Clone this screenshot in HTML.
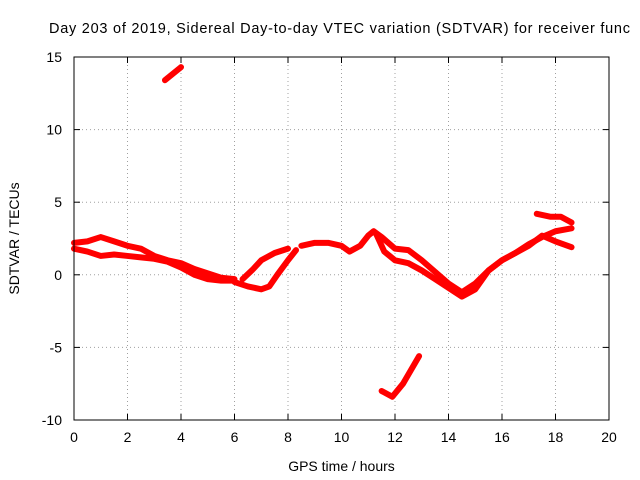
<!DOCTYPE html>
<html><head><meta charset="utf-8"><style>
html,body{margin:0;padding:0;background:#fff;}
svg{display:block;font-family:"Liberation Sans",sans-serif;}
</style></head><body>
<svg id="chart" width="640" height="480">
<g id="grid"></g><g id="marks"></g><g id="axes"></g>
</svg>
<script>
const xTicks=[0,2,4,6,8,10,12,14,16,18,20];
const yTicks=[-10,-5,0,5,10,15];
const bandAx=[0,0.5,1,1.5,2,2.5,3,3.5,4,4.5,5,5.5,6];
const bandAy=[1.8,1.6,1.3,1.4,1.3,1.2,1.1,0.9,0.5,0.0,-0.3,-0.4,-0.4];
const bandBx=[0,0.5,1,1.5,2,2.5,3,3.5,4,4.5,5,5.5,6];
const bandBy=[2.2,2.3,2.6,2.3,2.0,1.8,1.3,1.0,0.8,0.4,0.1,-0.2,-0.3];
const bandCx=[6,6.5,7,7.3,7.6,8,8.3];
const bandCy=[-0.5,-0.8,-1.0,-0.8,0,1.0,1.7];
const bandDx=[6.3,6.7,7,7.5,8];
const bandDy=[-0.3,0.4,1.0,1.5,1.8];
const bandEx=[8.5,9,9.5,10,10.3,10.7,11,11.2,11.5,12,12.5,13,13.5,14,14.5,15,15.5,16,16.5,17,17.5,18,18.6];
const bandEy=[2.0,2.2,2.2,2.0,1.6,2.0,2.7,3.0,2.6,1.8,1.7,1.0,0.2,-0.6,-1.2,-0.6,0.3,1.0,1.5,2.1,2.6,3.0,3.2];
const bandFx=[11.3,11.6,12,12.5,13,13.5,14,14.5,15,15.5,16,17,17.5,18,18.6];
const bandFy=[2.8,1.6,1.0,0.8,0.3,-0.3,-0.9,-1.5,-1.0,0.3,1.0,2.0,2.7,2.3,1.9];
const bandGx=[17.3,17.8,18.2,18.6];
const bandGy=[4.2,4.0,4.0,3.6];
const outHx=[3.4,4.0];
const outHy=[13.4,14.3];
const outLx=[11.5,11.9,12.3,12.9];
const outLy=[-8.0,-8.4,-7.5,-5.6];
const series=[[bandAx,bandAy],[bandBx,bandBy],[bandCx,bandCy],[bandDx,bandDy],[bandEx,bandEy],[bandFx,bandFy],[bandGx,bandGy],[outHx,outHy],[outLx,outLy]];
const L=74,R=609,T=57,B=420;
const X=v=>L+(v-0)/(20-0)*(R-L);
const Y=v=>B-(v+10)/(25)*(B-T);
const NS='http://www.w3.org/2000/svg';
function mk(tag,parent,attrs){const e=document.createElementNS(NS,tag);for(const k in attrs)e.setAttribute(k,attrs[k]);parent.appendChild(e);return e;}
const svg=document.getElementById('chart');
const grid=document.getElementById('grid'),marks=document.getElementById('marks'),axes=document.getElementById('axes');
xTicks.forEach(t=>{
 const g=mk('line',grid,{x1:X(t),x2:X(t),y1:T,y2:B,stroke:'#a0a0a0','stroke-dasharray':'1,3','stroke-width':1});
 
 
 mk('line',axes,{x1:X(t),x2:X(t),y1:B,y2:B-6,stroke:'#000'});
 mk('line',axes,{x1:X(t),x2:X(t),y1:T,y2:T+6,stroke:'#000'});
 const tx=mk('text',axes,{x:X(t),y:B+22,'text-anchor':'middle','font-size':14});
 tx.textContent=t;
 
 
});
yTicks.forEach(t=>{
 const g=mk('line',grid,{x1:L,x2:R,y1:Y(t),y2:Y(t),stroke:'#a0a0a0','stroke-dasharray':'1,3','stroke-width':1});
 
 
 mk('line',axes,{x1:L,x2:L+6,y1:Y(t),y2:Y(t),stroke:'#000'});
 mk('line',axes,{x1:R,x2:R-6,y1:Y(t),y2:Y(t),stroke:'#000'});
 const tx=mk('text',axes,{x:L-12,y:Y(t)+5,'text-anchor':'end','font-size':14});
 tx.textContent=t;
 
 
});
const frame=mk('rect',axes,{x:L,y:T,width:R-L,height:B-T,fill:'none',stroke:'#000'});


series.forEach(([xs,ys])=>{
 const pts=xs.map((x,i)=>X(x)+','+Y(ys[i])).join(' ');
 const p=mk('polyline',marks,{points:pts,fill:'none',stroke:'#ff0000','stroke-width':6,'stroke-linejoin':'round','stroke-linecap':'round'});
 
 
});
const title=mk('text',svg,{x:49,y:33,'font-size':14.5,textLength:581,lengthAdjust:'spacing'});
title.textContent='Day 203 of 2019, Sidereal Day-to-day VTEC variation (SDTVAR) for receiver func';


const xl=mk('text',svg,{x:(L+R)/2,y:471,'text-anchor':'middle','font-size':14});
xl.textContent='GPS time / hours';


const yl=mk('text',svg,{x:0,y:0,'text-anchor':'middle','font-size':14,transform:'translate(19,'+((T+B)/2)+') rotate(-90)'});
yl.textContent='SDTVAR / TECUs';


</script>
</body></html>
